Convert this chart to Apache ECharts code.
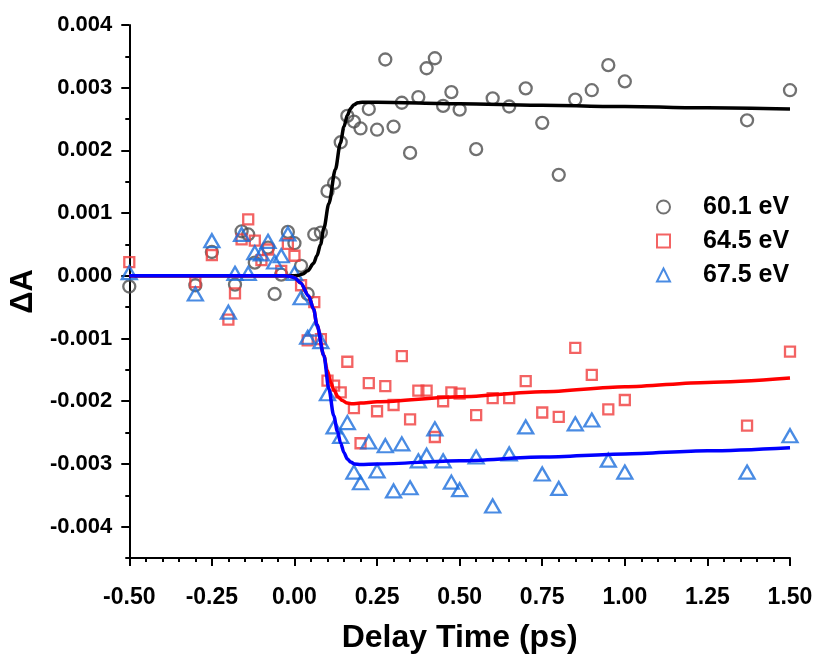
<!DOCTYPE html>
<html>
<head>
<meta charset="utf-8">
<script src="https://cdn.jsdelivr.net/npm/echarts@6/dist/echarts.min.js"></script>
<style>
html,body{margin:0;padding:0;background:#fff;}
#chart{width:822px;height:659px;}
</style>
</head>
<body>
<div id="chart"></div>
<script>
// ---- data (delay time in ps, ΔA in units of 1e-3) ----
const UNIT = 1e-3;
const seriesNames = ['60.1 eV', '64.5 eV', '67.5 eV'];

const data601 = [
  [-0.5,-0.17],[-0.3,-0.15],[-0.25,0.38],[-0.18,-0.14],[-0.16,0.71],[-0.14,0.66],[-0.12,0.21],
  [-0.08,0.45],[-0.06,-0.29],[-0.04,0.02],[-0.02,0.70],[0.0,0.52],[0.02,0.16],[0.04,-0.29],
  [0.06,0.66],[0.08,0.69],[0.10,1.35],[0.12,1.48],[0.14,2.13],[0.16,2.55],[0.18,2.46],[0.20,2.35],
  [0.225,2.66],[0.25,2.33],[0.275,3.45],[0.30,2.38],[0.325,2.76],[0.35,1.96],[0.375,2.85],
  [0.40,3.31],[0.425,3.47],[0.45,2.71],[0.475,2.93],[0.50,2.65],[0.55,2.02],[0.60,2.83],
  [0.65,2.70],[0.70,2.99],[0.75,2.44],[0.80,1.61],[0.85,2.81],[0.90,2.96],[0.95,3.36],
  [1.00,3.10],[1.37,2.48],[1.50,2.96]
];
const data645 = [
  [-0.5,0.22],[-0.3,-0.10],[-0.25,0.33],[-0.2,-0.70],[-0.18,-0.28],[-0.16,0.58],[-0.14,0.90],
  [-0.12,0.56],[-0.10,0.25],[-0.08,0.42],[-0.04,0.08],[-0.02,0.51],[0.0,0.32],[0.02,-0.15],
  [0.04,-1.03],[0.06,-0.42],[0.08,-1.01],[0.10,-1.67],[0.12,-1.75],[0.14,-1.86],[0.16,-1.37],
  [0.18,-2.11],[0.20,-2.67],[0.225,-1.71],[0.25,-2.16],[0.275,-1.76],[0.30,-2.06],[0.325,-1.28],
  [0.35,-2.29],[0.375,-1.83],[0.40,-1.83],[0.425,-2.57],[0.45,-2.00],[0.475,-1.86],[0.50,-1.88],
  [0.55,-2.22],[0.60,-1.95],[0.65,-1.95],[0.70,-1.68],[0.75,-2.18],[0.80,-2.25],[0.85,-1.15],
  [0.90,-1.58],[0.95,-2.13],[1.00,-1.98],[1.37,-2.39],[1.50,-1.21]
];
const data675 = [
  [-0.5,0.05],[-0.3,-0.29],[-0.25,0.56],[-0.2,-0.58],[-0.18,0.04],[-0.16,0.66],[-0.14,0.04],
  [-0.12,0.37],[-0.10,0.35],[-0.08,0.55],[-0.06,0.22],[-0.04,0.32],[-0.02,0.67],[0.0,0.04],
  [0.02,-0.35],[0.04,-0.98],[0.06,-0.85],[0.08,-1.05],[0.10,-1.88],[0.12,-2.41],[0.14,-2.56],
  [0.16,-2.34],[0.18,-3.13],[0.20,-3.30],[0.225,-2.65],[0.25,-3.11],[0.275,-2.71],[0.30,-3.43],
  [0.325,-2.68],[0.35,-3.38],[0.375,-2.95],[0.40,-2.86],[0.425,-2.44],[0.45,-2.95],[0.475,-3.29],
  [0.50,-3.41],[0.55,-2.89],[0.60,-3.67],[0.65,-2.84],[0.70,-2.41],[0.75,-3.16],[0.80,-3.39],
  [0.85,-2.36],[0.90,-2.30],[0.95,-2.94],[1.00,-3.13],[1.37,-3.13],[1.50,-2.55]
];

// fitted curves, points
const fit601 = [
  [-0.5,0],[-0.01,0],[0.01,0.005],[0.025,0.03],[0.04,0.08],[0.058,0.20],[0.068,0.32],[0.079,0.50],
  [0.089,0.76],[0.104,1.15],[0.124,1.70],[0.139,2.12],[0.150,2.38],[0.160,2.56],[0.170,2.67],
  [0.180,2.73],[0.192,2.76],[0.205,2.77],[0.25,2.77],[0.50,2.745],[0.75,2.72],[1.00,2.70],
  [1.25,2.68],[1.50,2.66]
];
const fit645 = [
  [-0.5,0],[-0.03,0],[-0.015,-0.005],[0.0,-0.03],[0.018,-0.11],[0.043,-0.32],[0.058,-0.53],[0.068,-0.78],
  [0.089,-1.27],[0.099,-1.50],[0.110,-1.70],[0.120,-1.83],[0.132,-1.93],[0.145,-1.99],[0.160,-2.03],
  [0.175,-2.04],[0.20,-2.03],[0.25,-2.01],[0.50,-1.93],[0.75,-1.85],[1.00,-1.77],[1.25,-1.70],[1.50,-1.63]
];
const fit675 = [
  [-0.5,0],[-0.03,0],[-0.015,-0.005],[0.0,-0.03],[0.018,-0.11],[0.043,-0.32],[0.058,-0.53],[0.068,-0.78],
  [0.089,-1.27],[0.104,-1.80],[0.119,-2.23],[0.130,-2.48],[0.140,-2.67],[0.150,-2.82],[0.160,-2.92],
  [0.170,-2.97],[0.182,-3.00],[0.20,-3.01],[0.25,-3.00],[0.50,-2.95],[0.75,-2.89],[1.00,-2.84],
  [1.25,-2.79],[1.50,-2.74]
];

const yTickValues = [-0.004,-0.003,-0.002,-0.001,0,0.001,0.002,0.003,0.004];
const yMinorTickValues = [-0.0045,-0.0035,-0.0025,-0.0015,-0.0005,0.0005,0.0015,0.0025,0.0035];

// ---- chart ----
const FONT = '"Liberation Sans", Arial, Helvetica, sans-serif';
const toXY = arr => arr.map(p => [p[0], p[1] * UNIT]);

const chart = echarts.init(document.getElementById('chart'), null, {renderer: 'canvas'});
const axisLineStyle = {color: '#000', width: 2};

const option = {
  animation: false,
  backgroundColor: '#fff',
  grid: {left: 128, right: 32, top: 25, bottom: 99},
  legend: {
    data: seriesNames,
    orient: 'vertical',
    left: 656,
    top: 194,
    padding: 0,
    itemGap: 8,
    itemWidth: 13,
    itemHeight: 13,
    textStyle: {fontFamily: FONT, fontSize: 25, fontWeight: 'bold', color: '#000',
                lineHeight: 26, padding: [0, 0, 0, 28]}
  },
  xAxis: {
    type: 'value', min: -0.5, max: 1.5, interval: 0.25,
    axisLine: {lineStyle: axisLineStyle, onZero: false},
    axisTick: {length: 8, lineStyle: axisLineStyle},
    minorTick: {show: true, splitNumber: 5, length: 4, lineStyle: axisLineStyle},
    splitLine: {show: false},
    axisLabel: {formatter: v => v.toFixed(2), fontFamily: FONT, fontSize: 23,
                fontWeight: 'bold', color: '#000', margin: 28},
    name: 'Delay Time (ps)', nameLocation: 'middle', nameGap: 64,
    nameTextStyle: {fontFamily: FONT, fontSize: 32, fontWeight: 'bold', color: '#000'}
  },
  yAxis: [{
    type: 'value', min: -0.0045, max: 0.004,
    axisLine: {show: true, lineStyle: axisLineStyle, onZero: false},
    axisTick: {show: true, length: 8, lineStyle: axisLineStyle, customValues: yTickValues},
    splitLine: {show: false},
    axisLabel: {customValues: yTickValues, formatter: v => v.toFixed(3), fontFamily: FONT,
                fontSize: 22, fontWeight: 'bold', color: '#000', margin: 17},
    name: 'ΔA', nameLocation: 'middle', nameGap: 88,
    nameTextStyle: {fontFamily: FONT, fontSize: 31, fontWeight: 'bold', color: '#000'}
  }, {
    type: 'value', min: -0.0045, max: 0.004, position: 'left', offset: 0,
    axisLine: {show: false, onZero: false},
    axisTick: {show: true, length: 4, lineStyle: axisLineStyle, customValues: yMinorTickValues},
    axisLabel: {show: false},
    splitLine: {show: false}
  }],
  series: [
    {name: seriesNames[0], type: 'scatter', data: toXY(data601), symbol: 'circle', symbolSize: 12,
     itemStyle: {color: 'rgba(255,255,255,0)', borderColor: '#4d4d4d', borderWidth: 2.3}},
    {name: seriesNames[1], type: 'scatter', data: toXY(data645), symbol: 'rect', symbolSize: 10,
     itemStyle: {color: 'rgba(255,255,255,0)', borderColor: '#F03C3C', borderWidth: 2.3}},
    {name: seriesNames[2], type: 'scatter', data: toXY(data675), symbol: 'triangle', symbolSize: [15, 13],
     itemStyle: {color: 'rgba(255,255,255,0)', borderColor: '#1C6EDC', borderWidth: 2.3}},
    {name: 'fit 60.1', type: 'line', data: toXY(fit601), showSymbol: false, smooth: 0.3,
     smoothMonotone: 'x', lineStyle: {color: '#000', width: 3.5}, itemStyle: {color: '#000'}},
    {name: 'fit 64.5', type: 'line', data: toXY(fit645), showSymbol: false, smooth: 0.3,
     smoothMonotone: 'x', lineStyle: {color: '#FF0000', width: 3.5}, itemStyle: {color: '#FF0000'}},
    {name: 'fit 67.5', type: 'line', data: toXY(fit675), showSymbol: false, smooth: 0.3,
     smoothMonotone: 'x', lineStyle: {color: '#0000FF', width: 3.5}, itemStyle: {color: '#0000FF'}}
  ]
};
chart.setOption(option);
</script>
</body>
</html>
